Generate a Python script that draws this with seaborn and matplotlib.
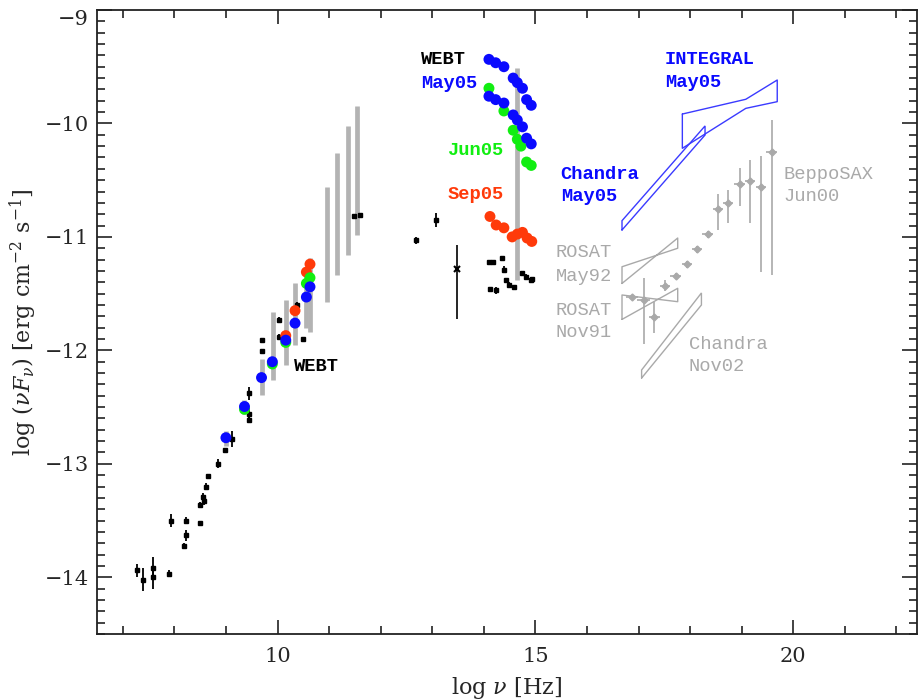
import numpy as np
import pandas as pd
import matplotlib
matplotlib.use("Agg")
import matplotlib.pyplot as plt
import seaborn as sns
from matplotlib.ticker import MultipleLocator

# ---------------- data (log nu [Hz], log nuFnu [erg cm^-2 s^-1]) ----------------
# WEBT campaigns, radio-mm and optical-UV
webt_may05_x = [9.00, 9.36, 9.69, 9.90, 10.16, 10.34, 10.56, 10.63,
                14.10, 14.23, 14.39, 14.57, 14.65, 14.75, 14.83, 14.92,
                14.10, 14.23, 14.39, 14.57, 14.65, 14.75, 14.83, 14.92]
webt_may05_y = [-12.77, -12.495, -12.24, -12.10, -11.91, -11.76, -11.53, -11.44,
                -9.435, -9.465, -9.50, -9.60, -9.64, -9.69, -9.79, -9.84,
                -9.76, -9.79, -9.82, -9.925, -9.97, -10.03, -10.13, -10.18]
webt_jun05_x = [9.36, 9.90, 10.16, 10.56, 10.63,
                14.10, 14.39, 14.57, 14.65, 14.72, 14.83, 14.92]
webt_jun05_y = [-12.52, -12.12, -11.93, -11.41, -11.36,
                -9.69, -9.89, -10.06, -10.14, -10.20, -10.34, -10.37]
webt_sep05_x = [10.16, 10.34, 10.56, 10.63,
                14.12, 14.24, 14.39, 14.55, 14.65, 14.75, 14.84, 14.93]
webt_sep05_y = [-11.87, -11.65, -11.31, -11.24,
                -10.82, -10.895, -10.92, -11.00, -10.975, -10.96, -11.01, -11.04]

# archival points (black)
arch_x = [7.28, 7.40, 7.59, 7.59, 7.89, 7.93, 8.23, 8.23, 8.19, 8.49, 8.49, 8.56,
          8.58, 8.62, 8.65, 8.85, 8.99, 9.12, 9.45, 9.45, 9.45, 9.69, 9.69, 10.03,
          10.03, 10.38, 10.50, 11.48, 11.59, 12.68, 13.07,
          14.10, 14.18, 14.36, 14.39, 14.44, 14.49, 14.59, 14.12, 14.23,
          14.75, 14.81, 14.91, 14.94]
arch_y = [-13.94, -14.02, -13.92, -14.00, -13.97, -13.50, -13.50, -13.63, -13.72,
          -13.52, -13.36, -13.29, -13.33, -13.20, -13.11, -13.00, -12.88, -12.78,
          -12.38, -12.56, -12.61, -11.91, -12.01, -11.73, -11.88, -11.60, -11.90,
          -10.82, -10.81, -11.03, -10.85,
          -11.22, -11.22, -11.19, -11.29, -11.38, -11.42, -11.44, -11.46, -11.47,
          -11.32, -11.35, -11.38, -11.37]
arch_yerr = [0.06, 0.10, 0.10, 0.10, 0.03, 0.06, 0.03, 0.05, 0.02, 0.02, 0.02, 0.03,
             0.03, 0.03, 0.02, 0.04, 0.02, 0.07, 0.06, 0.05, 0.03, 0.02, 0.02, 0.02,
             0.02, 0.03, 0.02, 0.02, 0.02, 0.03, 0.06,
             0.02, 0.02, 0.02, 0.03, 0.02, 0.02, 0.02, 0.02, 0.03,
             0.02, 0.02, 0.03, 0.02]

# single UV point with wide error
uv_x = [13.49]
uv_y = [-11.28]
uv_err_lo = [0.44]
uv_err_hi = [0.21]

# variability ranges (grey bars)
range_x = [9.00, 9.36, 9.70, 9.91, 10.16, 10.34, 10.55, 10.63,
           10.96, 11.16, 11.36, 11.55, 14.65]
range_lo = [-12.84, -12.56, -12.39, -12.26, -12.13, -11.95, -11.80, -11.84,
            -11.57, -11.34, -11.16, -10.98, -11.38]
range_hi = [-12.71, -12.44, -12.08, -11.66, -11.56, -11.41, -11.30, -11.19,
            -10.56, -10.26, -10.02, -9.85, -9.51]

# BeppoSAX Jun00 spectrum
sax_x = [16.87, 17.10, 17.31, 17.52, 17.72, 17.94, 18.14, 18.34,
         18.54, 18.74, 18.96, 19.16, 19.38, 19.58]
sax_y = [-11.527, -11.555, -11.71, -11.43, -11.345, -11.24, -11.11, -10.977,
         -10.75, -10.70, -10.53, -10.51, -10.56, -10.25]
sax_lo = [0.01, 0.39, 0.14, 0.05, 0.03, 0.03, 0.03, 0.03,
          0.19, 0.18, 0.20, 0.37, 0.75, 1.09]
sax_hi = [0.01, 0.19, 0.14, 0.05, 0.03, 0.03, 0.03, 0.03,
          0.13, 0.11, 0.135, 0.19, 0.27, 0.28]
sax_xerr = [0.12, 0.12, 0.10, 0.10, 0.10, 0.10, 0.10, 0.10,
            0.10, 0.10, 0.10, 0.10, 0.10, 0.10]

# X-ray power-law butterflies: (x_left, x_right, y_left_lo, y_left_hi, y_right_lo, y_right_hi)
chandra_may05 = [16.68, 18.29, -10.939, -10.857, -10.102, -10.022]
integral_may05_x = [17.85, 19.08, 19.69, 19.69, 19.08, 17.85]
integral_may05_y = [-9.917, -9.787, -9.617, -9.808, -9.867, -10.219]
rosat_may92 = [16.68, 17.76, -11.41, -11.263, -11.10, -11.01]
rosat_nov91 = [16.68, 17.76, -11.727, -11.512, -11.571, -11.453]
chandra_nov02 = [17.06, 18.22, -12.244, -12.173, -11.60, -11.494]

# ---------------- style ----------------
sns.set_theme(style="ticks")
plt.rcParams["font.family"] = ["DejaVu Serif", "DejaVu Sans"]
plt.rcParams["mathtext.fontset"] = "dejavuserif"

BLUE = "#0a0aff"
GREEN = "#11ee11"
RED = "#ff3a0a"
GREY = "#b3b3b3"
LGREY = "#a9a9a9"

fig = plt.figure(figsize=(9.18, 7.0), dpi=100)
ax = fig.add_axes([97 / 918, 1 - 634 / 700, 820 / 918, 624 / 700])

# grey variability ranges
ax.vlines(range_x, range_lo, range_hi, color=GREY, lw=3.4, zorder=1)

# archival black points
ax.errorbar(arch_x, arch_y, yerr=arch_yerr, fmt="s", ms=3.2, color="black",
            ecolor="black", elinewidth=1.3, capsize=0, zorder=3)
ax.errorbar(uv_x, uv_y, yerr=[uv_err_lo, uv_err_hi], fmt="x", ms=4, mew=1.5,
            color="black", elinewidth=1.2, capsize=0, zorder=3)

# WEBT campaigns
webt = pd.concat([
    pd.DataFrame({"lognu": webt_sep05_x, "lognufnu": webt_sep05_y, "epoch": "Sep05"}),
    pd.DataFrame({"lognu": webt_jun05_x, "lognufnu": webt_jun05_y, "epoch": "Jun05"}),
    pd.DataFrame({"lognu": webt_may05_x, "lognufnu": webt_may05_y, "epoch": "May05"}),
], ignore_index=True)
sns.scatterplot(data=webt, x="lognu", y="lognufnu", hue="epoch",
                palette={"Sep05": RED, "Jun05": GREEN, "May05": BLUE},
                s=62, edgecolor="none", legend=False, ax=ax, zorder=4)


def butterfly(p, color, lw):
    xl, xr, yl0, yl1, yr0, yr1 = p
    ax.plot([xl, xl, xr, xr, xl], [yl0, yl1, yr1, yr0, yl0], color=color, lw=lw,
            solid_joinstyle="miter", zorder=2)


def bowtie(p, color, lw):
    xl, xr, yl0, yl1, yr0, yr1 = p
    ax.plot([xl, xl, xr, xr, xl], [yl0, yl1, yr0, yr1, yl0], color=color, lw=lw,
            zorder=2)


butterfly(chandra_may05, "#3a3aff", 1.0)
ax.plot(integral_may05_x + integral_may05_x[:1], integral_may05_y + integral_may05_y[:1],
        color="#3a3aff", lw=1.0, zorder=2)
bowtie(rosat_may92, LGREY, 1.0)
bowtie(rosat_nov91, LGREY, 1.0)
butterfly(chandra_nov02, LGREY, 1.0)

ax.errorbar(sax_x, sax_y, xerr=sax_xerr, yerr=[sax_lo, sax_hi], fmt="D", ms=3.5,
            color=LGREY, ecolor=LGREY, elinewidth=1.2, capsize=0, zorder=2)

# ---------------- annotations ----------------
lab = dict(family=["Liberation Mono", "DejaVu Sans Mono"], fontsize=13.5,
           fontweight="bold", va="center", ha="left")
ax.text(12.79, -9.44, "WEBT", color="black", **lab)
ax.text(12.79, -9.645, "May05", color=BLUE, **lab)
ax.text(13.29, -10.234, "Jun05", color=GREEN, **lab)
ax.text(13.29, -10.63, "Sep05", color=RED, **lab)
ax.text(10.32, -12.145, "WEBT", color="black", **lab)
ax.text(15.49, -10.446, "Chandra", color=BLUE, **lab)
ax.text(15.49, -10.64, "May05", color=BLUE, **lab)
ax.text(17.51, -9.44, "INTEGRAL", color=BLUE, **lab)
ax.text(17.51, -9.64, "May05", color=BLUE, **lab)
glab = dict(lab, fontweight="normal", color=LGREY)
ax.text(19.81, -10.446, "BeppoSAX", **glab)
ax.text(19.81, -10.64, "Jun00", **glab)
ax.text(15.39, -11.14, "ROSAT", **glab)
ax.text(15.39, -11.345, "May92", **glab)
ax.text(15.39, -11.645, "ROSAT", **glab)
ax.text(15.39, -11.845, "Nov91", **glab)
ax.text(17.97, -11.95, "Chandra", **glab)
ax.text(17.97, -12.145, "Nov02", **glab)

# ---------------- axes ----------------
ax.set_xlim(6.5, 22.4)
ax.set_ylim(-14.5, -9.0)
ax.xaxis.set_major_locator(MultipleLocator(5))
ax.xaxis.set_minor_locator(MultipleLocator(1))
ax.yaxis.set_major_locator(MultipleLocator(1))
ax.yaxis.set_minor_locator(MultipleLocator(0.1))
ax.tick_params(which="both", direction="in", top=True, right=True,
               color="#222222", width=1.2, labelsize=15)
ax.tick_params(axis="x", which="major", length=10, pad=9)
ax.tick_params(axis="y", which="major", length=11, pad=6)
ax.tick_params(which="minor", length=5.5)
for s in ax.spines.values():
    s.set_linewidth(1.3)
    s.set_color("#222222")

ax.set_xlabel(r"log $\nu$ [Hz]", fontsize=16)
ax.set_ylabel(r"log $(\nu F_\nu)$ [erg cm$^{-2}$ s$^{-1}$]", fontsize=16)
ax.xaxis.set_label_coords(0.5, -0.066)
ax.yaxis.label.set_va("center")
ax.yaxis.set_label_coords(-0.09, 0.5)

fig.canvas.draw()
for t in ax.yaxis.get_major_ticks():
    if abs(t.get_loc() + 9.0) < 1e-6:
        t.label1.set_va("top")

fig.savefig("out.png", dpi=100)
